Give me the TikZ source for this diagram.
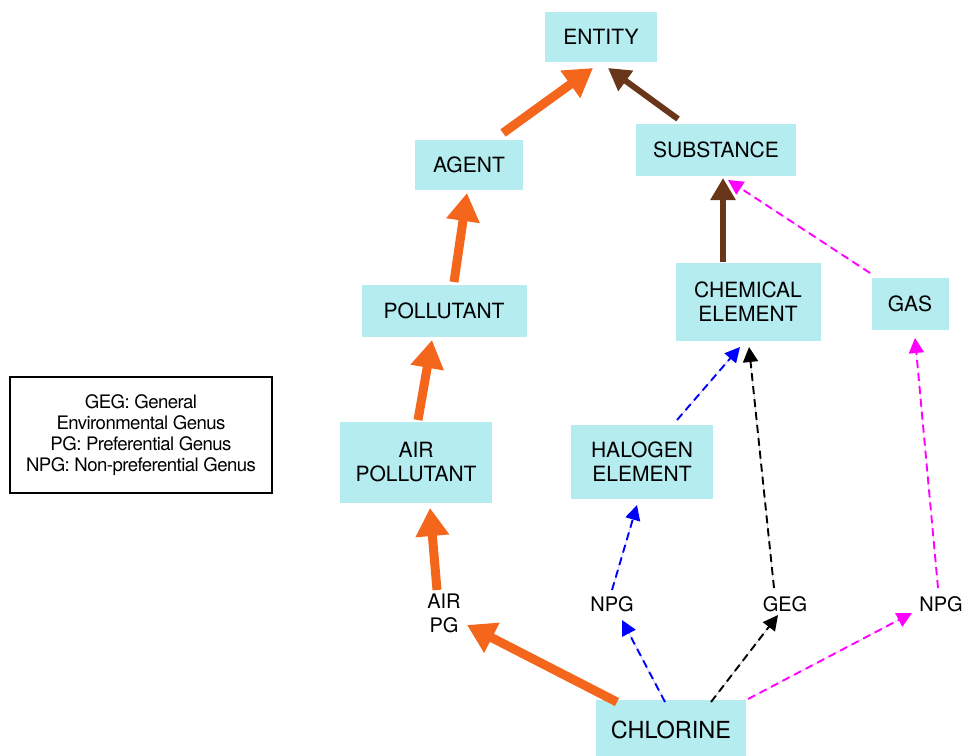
\documentclass[tikz,border=0pt]{standalone}
\usepackage{fontspec}
\setmainfont{TeX Gyre Heros}
\usetikzlibrary{arrows.meta,calc}
\definecolor{boxc}{HTML}{B4ECF0}
\definecolor{orng}{HTML}{F4661B}
\definecolor{brwn}{HTML}{6A361A}
\definecolor{mgnt}{HTML}{FF00FF}
\definecolor{blu}{HTML}{0000FF}
\tikzset{
  cbox/.style={fill=boxc, draw=none, align=center, inner sep=0pt, font=\fontsize{21}{24}\selectfont},
  lbl/.style={align=center, inner sep=0pt, font=\fontsize{20}{24}\selectfont},
  orarrow/.style={draw=orng, line width=9pt, -{Triangle[length=28pt,width=32pt]}, fill=orng},
  brarrow/.style={draw=brwn, line width=6pt, -{Triangle[length=22pt,width=24pt]}, fill=brwn},
  dsharrow/.style={line width=1.9pt, dash pattern=on 8pt off 5pt, -{Triangle[length=15pt,width=15pt]}},
}
\begin{document}
\begin{tikzpicture}[x=1pt,y=-1pt]
\useasboundingbox (0,0) rectangle (965,755);
\node[cbox, minimum width=112pt, minimum height=50pt] (entity) at (601,37) {ENTITY};
\node[cbox, minimum width=108pt, minimum height=50pt] (agent) at (469,165) {AGENT};
\node[cbox, minimum width=160pt, minimum height=52pt] (substance) at (716,150) {SUBSTANCE};
\node[cbox, minimum width=165pt, minimum height=52pt] (pollutant) at (444,311) {POLLUTANT};
\node[cbox, minimum width=145pt, minimum height=78pt] (chem) at (748,302) {CHEMICAL\\ELEMENT};
\node[cbox, minimum width=77pt, minimum height=52pt] (gas) at (910,304) {GAS};
\node[cbox, minimum width=152pt, minimum height=81pt] (airpol) at (416,462) {AIR\\POLLUTANT};
\node[cbox, minimum width=142pt, minimum height=74pt] (halogen) at (642,462) {HALOGEN\\ELEMENT};
\node[cbox, minimum width=150pt, minimum height=60pt, font=\fontsize{23.5}{28}\selectfont] (chl) at (671,730) {CHLORINE};
\node[lbl] (airpg) at (444,613) {AIR\\PG};
\node[lbl] (npga) at (612,604) {NPG};
\node[lbl] (geg) at (785,604) {GEG};
\node[lbl] (npgb) at (941,604) {NPG};
\node[draw=black, line width=1.4pt, minimum width=262pt, minimum height=116pt, align=center, inner sep=0pt, font=\fontsize{18.6}{21}\selectfont] (legend) at (141,435) {\addfontfeatures{LetterSpace=-3}GEG: General\\\addfontfeatures{LetterSpace=-3}Environmental Genus\\\addfontfeatures{LetterSpace=-3}PG: Preferential Genus\\\addfontfeatures{LetterSpace=-3}NPG: Non-preferential Genus};
% thick arrows
\draw[orarrow] ($(agent)+(34,-32)$) -- ($(entity)+(-8,31)$);
\draw[brarrow] ($(substance)+(-38,-31)$) -- ($(entity)+(7,31)$);
\draw[orarrow] ($(pollutant)+(10,-29)$) -- ($(agent)+(-2,28)$);
\draw[brarrow] ($(chem)+(-25,-40)$) -- ($(substance)+(7,28)$);
\draw[orarrow] ($(airpol)+(2,-42)$) -- ($(pollutant)+(-12,29)$);
\draw[orarrow] ($(airpg)+(-7,-23)$) -- ($(airpol)+(14,46)$);
\draw[orarrow] ($(chl)+(-54,-28)$) -- ($(airpg)+(23,12)$);
% dashed arrows
\draw[dsharrow, mgnt, fill=mgnt] ($(gas)+(-40,-31)$) -- ($(substance)+(12,30)$);
\draw[dsharrow, blu, fill=blu] ($(halogen)+(35,-42)$) -- ($(chem)+(-8,45)$);
\draw[dsharrow, black, fill=black] ($(geg)+(-11,-16)$) -- ($(chem)+(1,45)$);
\draw[dsharrow, mgnt, fill=mgnt] ($(npgb)+(-3,-16)$) -- ($(gas)+(5,34)$);
\draw[dsharrow, blu, fill=blu] ($(npga)+(0,-14)$) -- ($(halogen)+(-5,43)$);
\draw[dsharrow, blu, fill=blu] ($(chl)+(-6,-28)$) -- ($(npga)+(10,16)$);
\draw[dsharrow, black, fill=black] ($(chl)+(40,-28)$) -- ($(geg)+(-7,11)$);
\draw[dsharrow, mgnt, fill=mgnt] ($(chl)+(77,-31)$) -- ($(npgb)+(-29,9)$);
\end{tikzpicture}
\end{document}
